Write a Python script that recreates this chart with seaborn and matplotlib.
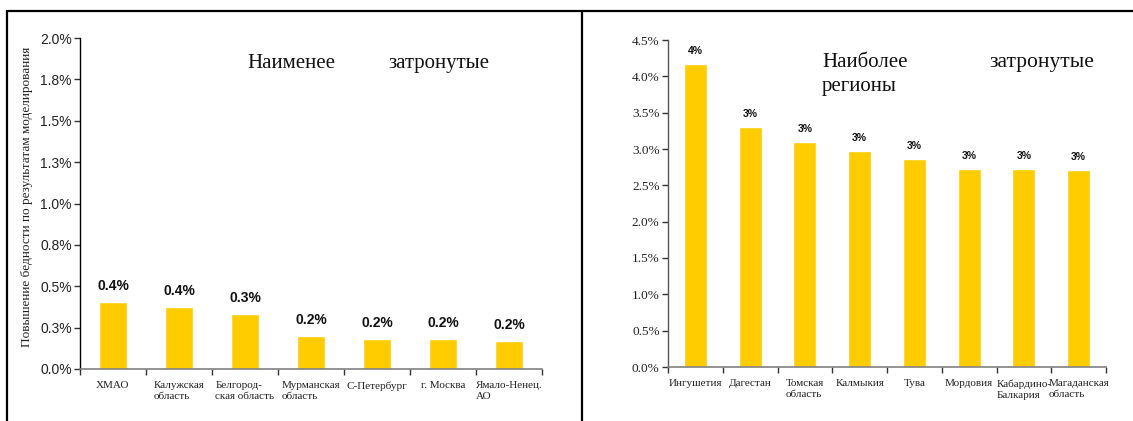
import matplotlib
matplotlib.use("Agg")
import matplotlib.pyplot as plt
import seaborn as sns
import pandas as pd
from matplotlib.lines import Line2D
from matplotlib.ticker import FixedLocator

# ---- data ----
least_regions = ["ХМАО", "Калужская\nобласть", "Белгород-\nская область", "Мурманская\nобласть",
                 "С-Петербург", "г. Москва", "Ямало-Ненец.\nАО"]
least_values = [0.407, 0.376, 0.334, 0.201, 0.183, 0.183, 0.171]
least_yticks = [0.0, 0.25, 0.5, 0.75, 1.0, 1.25, 1.5, 1.75, 2.0]
least_yticklabels = ["0.0%", "0.3%", "0.5%", "0.8%", "1.0%", "1.3%", "1.5%", "1.8%", "2.0%"]

most_regions = ["Ингушетия", "Дагестан", "Томская\nобласть", "Калмыкия", "Тува",
                "Мордовия", "Кабардино-\nБалкария", "Магаданская\nобласть"]
most_values = [4.17, 3.30, 3.09, 2.97, 2.86, 2.72, 2.72, 2.71]
most_yticks = [0.0, 0.5, 1.0, 1.5, 2.0, 2.5, 3.0, 3.5, 4.0, 4.5]
most_yticklabels = ["0.0%", "0.5%", "1.0%", "1.5%", "2.0%", "2.5%", "3.0%", "3.5%", "4.0%", "4.5%"]

y_label = "Повышение бедности по результатам моделирования"
title_left = ("Наименее", "затронутые")
title_right = ("Наиболее", "затронутые", "регионы")

BAR = "#FFCC00"
SERIF = ["Liberation Serif", "DejaVu Serif"]
SANS = ["Liberation Sans", "DejaVu Sans"]

sns.set_theme(style="white")
plt.rcParams["font.family"] = SANS

W, H = 1133, 421
fig = plt.figure(figsize=(W / 100, H / 100), dpi=100)

def fx(px):
    return px / W

def fy(py):
    return 1 - py / H

# ---- left chart ----
axL = fig.add_axes([fx(80), fy(369), fx(542) - fx(80), fy(38) - fy(369)])
dfL = pd.DataFrame({"region": least_regions, "value": least_values})
sns.barplot(data=dfL, x="region", y="value", ax=axL, color=BAR, saturation=1, width=0.41)
axL.set_xlim(-0.5, len(least_regions) - 0.5)
axL.set_ylim(0, 2.0)
axL.set_yticks(least_yticks)
axL.set_yticklabels(least_yticklabels, fontsize=10, color="#222222", family=SANS)
axL.set_xlabel("")
axL.set_ylabel(y_label, family=SERIF, fontsize=9.5, color="#222222")
axL.yaxis.set_label_coords((33 - 80) / 462, (369 - 197) / 331)
for c, v in zip(axL.containers[0], least_values):
    axL.annotate(f"{v:.1f}%", (c.get_x() + c.get_width() / 2, c.get_height()),
                 xytext=(0, 6), textcoords="offset points", ha="center", va="bottom",
                 fontsize=10, fontweight="bold", color="#111111", family=SANS)

# ---- right chart ----
axR = fig.add_axes([fx(668), fy(367), fx(1106) - fx(668), fy(40) - fy(367)])
dfR = pd.DataFrame({"region": most_regions, "value": most_values})
sns.barplot(data=dfR, x="region", y="value", ax=axR, color=BAR, saturation=1, width=0.42)
axR.set_xlim(-0.5, len(most_regions) - 0.5)
axR.set_ylim(0, 4.5)
axR.set_yticks(most_yticks)
axR.set_yticklabels(most_yticklabels, fontsize=9.5, color="#222222", family=SERIF)
axR.set_xlabel("")
axR.set_ylabel("")
for c, v in zip(axR.containers[0], most_values):
    axR.annotate(f"{v:.0f}%", (c.get_x() + c.get_width() / 2, c.get_height()),
                 xytext=(0, 6), textcoords="offset points", ha="center", va="bottom",
                 fontsize=7.5, fontweight="bold", color="#111111", family=SANS)

for ax, n, ycol in ((axL, len(least_regions), "black"), (axR, len(most_regions), "#555555")):
    for s in ("top", "right"):
        ax.spines[s].set_visible(False)
    ax.spines["left"].set_color(ycol)
    ax.spines["left"].set_linewidth(1)
    ax.spines["bottom"].set_color("#808080")
    ax.spines["bottom"].set_linewidth(1.2)
    ax.xaxis.set_minor_locator(FixedLocator([i - 0.5 for i in range(n + 1)]))
    ax.tick_params(axis="x", which="major", length=0, pad=9)
    ax.tick_params(axis="x", which="minor", length=4, width=1, color="#333333", direction="out", bottom=True)
    ax.tick_params(axis="y", which="major", length=4, width=1, color="#333333", direction="out", left=True, pad=2)
    for lab in ax.get_xticklabels():
        lab.set_family(SERIF)
        lab.set_fontsize(8)
        lab.set_color("#222222")
        lab.set_multialignment("left")
        lab.set_verticalalignment("top")
        lab.set_linespacing(1.25)
    ax.set_facecolor("white")

# ---- titles ----
fig.text(fx(247), fy(68), title_left[0], family=SERIF, fontsize=15, color="#111111", va="baseline")
fig.text(fx(388), fy(68), title_left[1], family=SERIF, fontsize=15, color="#111111", va="baseline")
fig.text(fx(822), fy(67), title_right[0], family=SERIF, fontsize=15, color="#111111", va="baseline")
fig.text(fx(989), fy(67), title_right[1], family=SERIF, fontsize=15.5, color="#111111", va="baseline")
fig.text(fx(822), fy(91), title_right[2], family=SERIF, fontsize=15, color="#111111", va="baseline")

# ---- frame lines ----
fig.add_artist(Line2D([fx(7), 1.0], [fy(11), fy(11)], color="black", linewidth=1.6))
fig.add_artist(Line2D([fx(7), fx(7)], [fy(11), 0.0], color="black", linewidth=1.6))
fig.add_artist(Line2D([fx(582), fx(582)], [fy(11), 0.0], color="black", linewidth=1.6))

fig.savefig("out.png", dpi=100, facecolor="white")
